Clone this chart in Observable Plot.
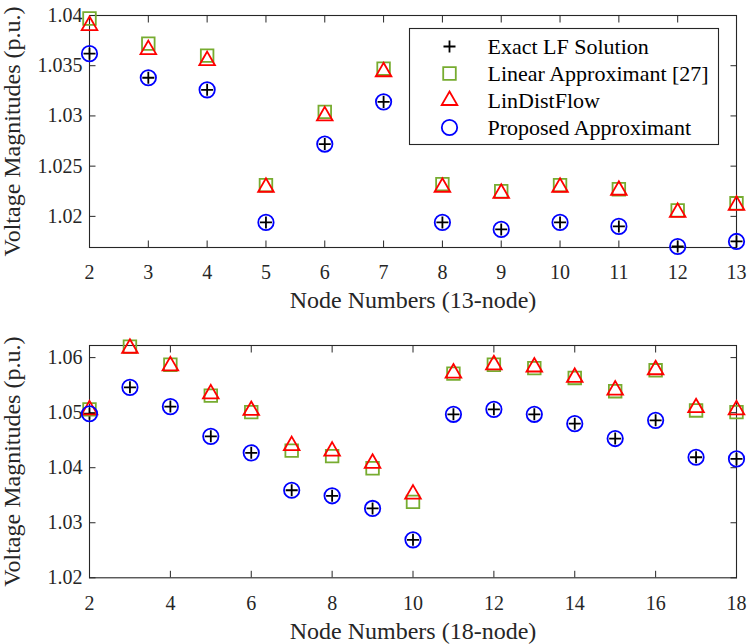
<!DOCTYPE html>
<html><head><meta charset="utf-8">
<script src="https://cdn.jsdelivr.net/npm/d3@7"></script>
<script src="https://cdn.jsdelivr.net/npm/@observablehq/plot@0.6"></script>
<style>
body{margin:0;background:#fff;width:748px;height:644px;position:relative;overflow:hidden;font-family:"Liberation Serif","Times New Roman",serif;}
.pane{position:absolute;left:0}
svg{overflow:visible}
</style></head><body>
<div id="top" class="pane" style="top:0"></div>
<div id="bottom" class="pane" style="top:320px"></div>
<div id="legend" class="pane" style="top:28px;left:409px"></div>
<script>
// ---------- DATA ----------
const seriesNames = ["Exact LF Solution", "Linear Approximant [27]", "LinDistFlow", "Proposed Approximant"];

// 13-node system
const nodes13 = [2, 3, 4, 5, 6, 7, 8, 9, 10, 11, 12, 13];
const exact13    = [1.0362, 1.0338, 1.0326, 1.0194, 1.0272, 1.0314, 1.0194, 1.0187, 1.0194, 1.0190, 1.0170, 1.0175];
const linear13   = [1.0397, 1.0372, 1.0360, 1.0231, 1.0304, 1.0347, 1.0232, 1.0225, 1.0231, 1.0227, 1.0206, 1.0213];
const lindist13  = [1.0390, 1.0366, 1.0355, 1.0229, 1.0300, 1.0344, 1.0229, 1.0223, 1.0229, 1.0226, 1.0204, 1.0211];
const proposed13 = [1.0362, 1.0338, 1.0326, 1.0194, 1.0272, 1.0314, 1.0194, 1.0187, 1.0194, 1.0190, 1.0170, 1.0175];
const xTicks13 = [2, 3, 4, 5, 6, 7, 8, 9, 10, 11, 12, 13];
const yTicks13 = [1.02, 1.025, 1.03, 1.035, 1.04];
const yTickLabels13 = ["1.02", "1.025", "1.03", "1.035", "1.04"];

// 18-node system
const nodes18 = [2, 3, 4, 5, 6, 7, 8, 9, 10, 11, 12, 13, 14, 15, 16, 17, 18];
const exact18    = [1.0498, 1.0546, 1.0511, 1.0457, 1.0427, 1.0359, 1.0349, 1.0326, 1.0269, 1.0497, 1.0506, 1.0497, 1.0480, 1.0453, 1.0486, 1.0419, 1.0416];
const linear18   = [1.0506, 1.0620, 1.0587, 1.0531, 1.0501, 1.0431, 1.0421, 1.0399, 1.0338, 1.0571, 1.0587, 1.0581, 1.0563, 1.0539, 1.0577, 1.0504, 1.0501];
const lindist18  = [1.0505, 1.0617, 1.0585, 1.0534, 1.0504, 1.0440, 1.0430, 1.0408, 1.0352, 1.0572, 1.0587, 1.0583, 1.0564, 1.0541, 1.0578, 1.0509, 1.0505];
const proposed18 = [1.0498, 1.0546, 1.0511, 1.0457, 1.0427, 1.0359, 1.0349, 1.0326, 1.0269, 1.0497, 1.0506, 1.0497, 1.0480, 1.0453, 1.0486, 1.0419, 1.0416];
const xTicks18 = [2, 4, 6, 8, 10, 12, 14, 16, 18];
const yTicks18 = [1.02, 1.03, 1.04, 1.05, 1.06];
const yTickLabels18 = ["1.02", "1.03", "1.04", "1.05", "1.06"];

// ---------- STYLE ----------
const styles = [
  {symbol: "plus",     stroke: "#000000", r: 3.95},
  {symbol: "square",   stroke: "#77AC30", r: 7.1},
  {symbol: "triangle", stroke: "#FF0000", r: 5.8},
  {symbol: "circle",   stroke: "#0000FF", r: 7.7}
];
const ink = "#262626";
const FONT = '"Liberation Serif","Times New Roman",serif';

function panel({nodes, values, xTicks, yTicks, yLabels, xDomain, yDomain, height, marginTop, marginBottom, xLabel}) {
  const marks = [];
  values.forEach((vals, i) => {
    const st = styles[i];
    marks.push(Plot.dot(nodes.map((n, j) => ({n, v: vals[j]})), {
      x: "n", y: "v", symbol: () => st.symbol, r: st.r, stroke: st.stroke, fill: "none", strokeWidth: 1.8
    }));
  });
  const fmt = d => yLabels[yTicks.indexOf(d)] ?? "";
  return Plot.plot({
    width: 748, height, marginLeft: 89, marginRight: 12, marginTop, marginBottom,
    style: {fontFamily: FONT, color: ink, background: "transparent", overflow: "visible"},
    symbol: {type: "identity"},
    x: {domain: xDomain},
    y: {domain: yDomain},
    marks: [
      Plot.frame({stroke: ink, strokeWidth: 1.1}),
      Plot.axisX(xTicks, {anchor: "bottom", tickSize: -6.5, tickPadding: 24, fontSize: 20, fill: ink, stroke: ink, label: null}),
      Plot.axisX(xTicks, {anchor: "top", tickSize: -6.5, tickFormat: () => "", stroke: ink, label: null}),
      Plot.axisY(yTicks, {anchor: "left", tickSize: -6.5, tickPadding: 13.5, tickFormat: fmt, fontSize: 20, fill: ink, stroke: ink, label: null}),
      Plot.axisY(yTicks, {anchor: "right", tickSize: -6.5, tickFormat: () => "", stroke: ink, label: null}),
      Plot.text([xLabel], {text: d => d, frameAnchor: "bottom", lineAnchor: "middle", dy: 53.3, fontSize: 24, fill: ink}),
      Plot.text(["Voltage Magnitudes (p.u.)"], {text: d => d, frameAnchor: "left", textAnchor: "middle", lineAnchor: "middle", dx: -77, rotate: -90, fontSize: 24, fill: ink}),
      ...marks
    ]
  });
}

document.getElementById("top").append(panel({
  nodes: nodes13, values: [exact13, linear13, lindist13, proposed13],
  xTicks: xTicks13, yTicks: yTicks13, yLabels: yTickLabels13,
  xDomain: [2, 13], yDomain: [1.0169, 1.04],
  height: 320, marginTop: 15, marginBottom: 73, xLabel: "Node Numbers (13-node)"
}));

document.getElementById("bottom").append(panel({
  nodes: nodes18, values: [exact18, linear18, lindist18, proposed18],
  xTicks: xTicks18, yTicks: yTicks18, yLabels: yTickLabels18,
  xDomain: [2, 18], yDomain: [1.02, 1.0622],
  height: 324, marginTop: 25, marginBottom: 66.7, xLabel: "Node Numbers (18-node)"
}));

// Legend
const legendData = seriesNames.map((name, i) => ({name, ...styles[i]}));
const legendMarks = legendData.map(d => Plot.dot([d], {
  y: "name", frameAnchor: "left", dx: 40, symbol: () => d.symbol, r: d.r, stroke: d.stroke, fill: "none", strokeWidth: 1.8
}));
document.getElementById("legend").append(Plot.plot({
  width: 309, height: 116, margin: 0,
  style: {fontFamily: FONT, color: "#000", background: "#fff", overflow: "visible"},
  symbol: {type: "identity"},
  y: {type: "point", domain: seriesNames, padding: 0.625, axis: null},
  marks: [
    Plot.frame({stroke: ink, strokeWidth: 1.1, fill: "#fff"}),
    ...legendMarks,
    Plot.text(legendData, {y: "name", text: "name", frameAnchor: "left", dx: 78, textAnchor: "start", fontSize: 22, fill: "#000"})
  ]
}));
</script>
</body></html>
